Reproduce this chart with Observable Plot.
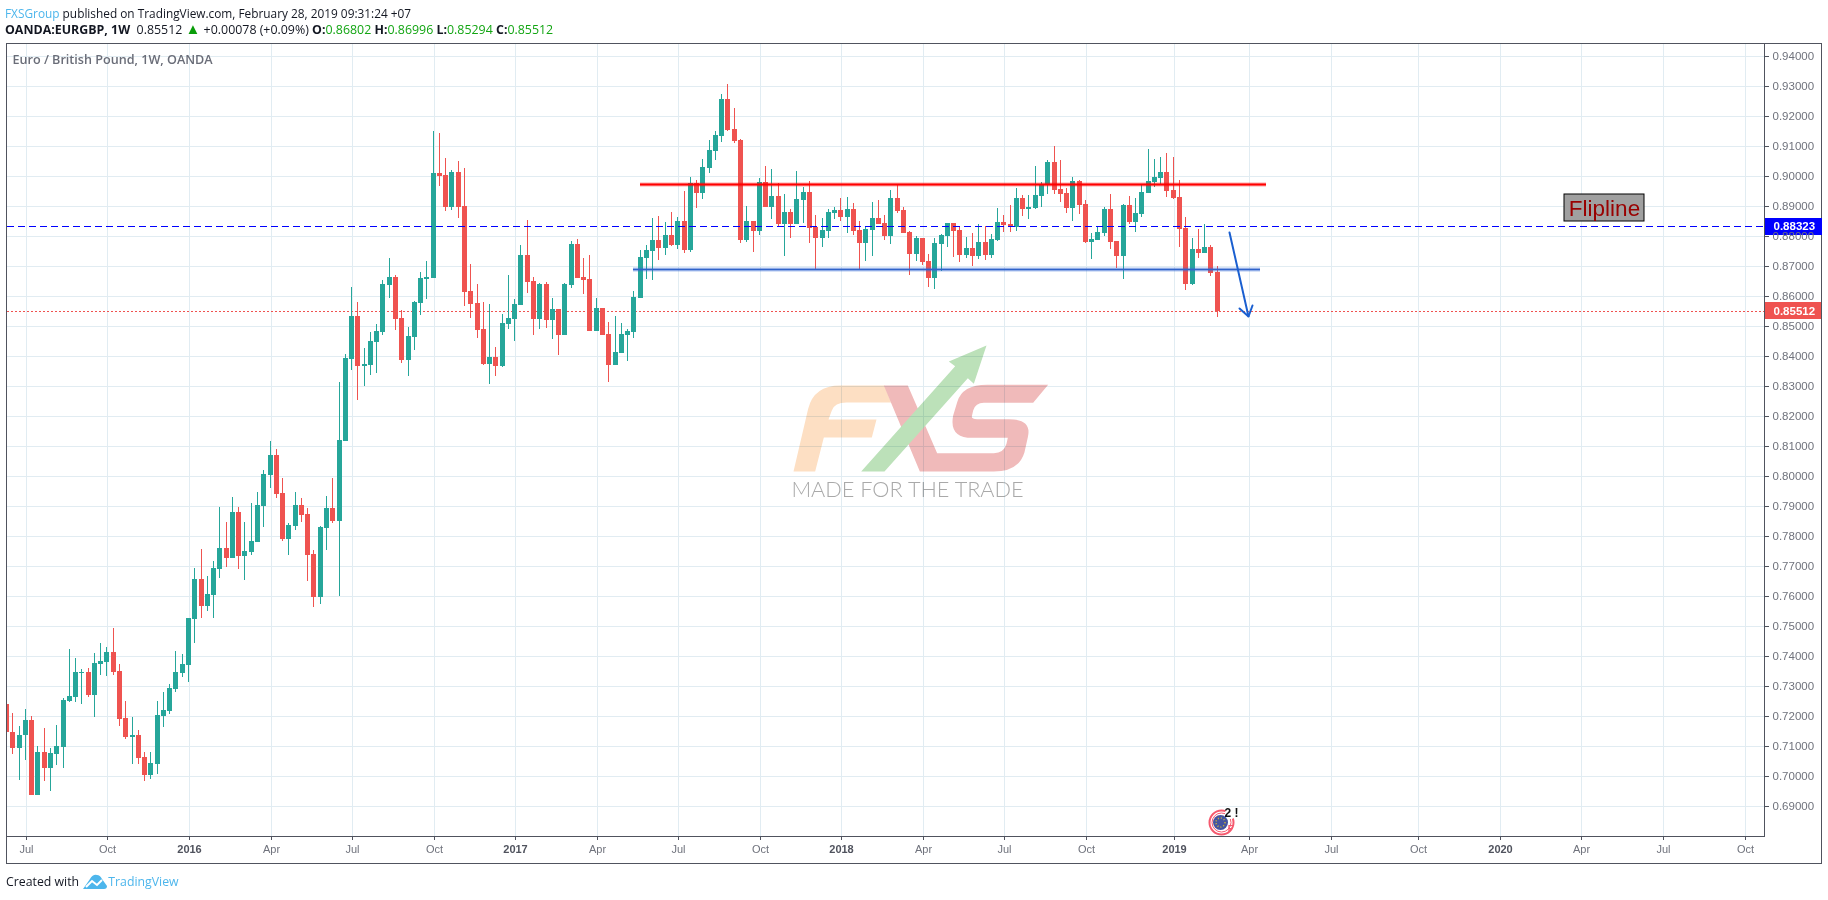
<!DOCTYPE html>
<html>
<head>
<meta charset="utf-8">
<script src="https://cdn.jsdelivr.net/npm/d3@7"></script>
<script src="https://cdn.jsdelivr.net/npm/@observablehq/plot@0.6"></script>
<style>
html,body{margin:0;padding:0;background:#fff;}
body{width:1828px;height:900px;position:relative;overflow:hidden;font-family:"Open Sans",sans-serif;}
.hd{position:absolute;left:5px;white-space:nowrap;color:#131722;font-size:12.4px;line-height:16px;}
.bl{color:#4db6ec}.g{color:#12a512}b{font-weight:700}
.tri{font-size:15px;line-height:0;color:#0a9d0a}
#chart{position:absolute;left:6px;top:43px;border:1px solid #50535e;width:1814px;height:819px;}
#chart svg{display:block}
#foot{position:absolute;left:6px;top:873px;font-size:12.3px;line-height:18px;color:#131722;white-space:nowrap;}
#foot svg{vertical-align:-3px;margin:0 1px 0 1px}
</style>
</head>
<body>
<div class="hd" style="top:5px;font-size:11.85px"><span class="bl">FXSGroup</span> published on TradingView.com, February 28, 2019 09:31:24 +07</div>
<div class="hd" style="top:22px"><b>OANDA:EURGBP, 1W</b> &nbsp;0.85512 <span class="tri">▲</span> +0.00078 (+0.09%) <b>O:</b><span class="g">0.86802</span> <b>H:</b><span class="g">0.86996</span> <b>L:</b><span class="g">0.85294</span> <b>C:</b><span class="g">0.85512</span></div>
<div id="chart"></div>
<div id="foot">Created with <svg width="24" height="15" viewBox="0 0 24 15"><path d="M0 15 L7 5 Q10 0 14 1 Q17 1 19 5 L24 12 Q24 15 21 15 Z" fill="#4db6ec"/><path d="M3 13 L9 7 L14 11 L19 6" fill="none" stroke="#fff" stroke-width="2"/></svg><span class="bl">TradingView</span></div>
<script>
const opens = [
.7241,.71477,.70921,.71355,.71877,.69377,.7081,.70277,.70744,.70977,
.7251,.72644,.7344,.73477,.7271,.73744,.7381,.74144,.7351,.71944,
.7131,.71377,.70644,.70044,.7041,.7201,.72177,.7291,.73444,.7371,
.75244,.76577,.75677,.76044,.7691,.7761,.77277,.7881,.77344,.77477,
.7781,.7901,.80044,.8071,.79444,.7791,.78344,.79044,.78744,.7741,
.75977,.78277,.78944,.7851,.81176,.8391,.85343,.83676,.8371,.84476,
.8481,.86376,.86643,.85276,.83876,.84643,.85776,.86576,.8661,.9011,
.90043,.88976,.90143,.8901,.86176,.85776,.8491,.83743,.83976,.83676,
.85076,.85243,.8571,.87376,.8651,.85243,.8641,.8521,.85576,.8471,
.86376,.87743,.86643,.86576,.84843,.8561,.84743,.8371,.8411,.8471,
.8481,.85943,.87276,.8751,.87876,.8761,.88043,.8771,.8851,.87543,
.89776,.89443,.90276,.90843,.91343,.92576,.91576,.9121,.87876,.8851,
.88176,.8981,.88976,.89343,.8841,.8881,.8841,.8921,.89476,.8831,
.87943,.88176,.88776,.88876,.88643,.8891,.8821,.87776,.8821,.8861,
.88443,.8801,.89276,.88876,.88143,.8741,.87943,.87176,.8661,.87743,
.8801,.88443,.8821,.87376,.8761,.87343,.8781,.87376,.87876,.88477,
.8841,.8831,.89277,.8891,.88944,.89344,.8971,.90477,.89577,.89444,
.88944,.89844,.89077,.8781,.87877,.8811,.8891,.87844,.87344,.89044,
.88477,.88744,.89444,.8981,.89944,.90144,.89544,.8931,.88277,.8641,
.87577,.87444,.87644,.86802];
const highs = [
.7241,.7211,.71677,.72244,.7201,.7101,.7161,.70944,.7171,.7261,
.74244,.73944,.73577,.7361,.7411,.74444,.7431,.74944,.73744,.7251,
.71977,.71544,.7081,.7081,.7251,.7281,.73077,.74177,.74077,.75277,
.76944,.77577,.76677,.77177,.78977,.78477,.7931,.78977,.78477,.7911,
.79477,.8021,.81177,.8091,.79944,.78444,.79477,.79277,.78944,.77544,
.78344,.79344,.79944,.83143,.84076,.8631,.8581,.84276,.8481,.85076,
.86543,.87276,.8671,.85543,.84976,.85843,.8681,.87176,.9151,.91443,
.9061,.9021,.9051,.90276,.87076,.8641,.8581,.85743,.8431,.8541,
.8671,.8591,.8771,.88543,.86643,.86443,.86476,.85943,.85576,.86443,
.87843,.8791,.87276,.87376,.85943,.8561,.85143,.85343,.8511,.8491,
.86176,.87543,.8771,.8861,.88676,.88476,.8881,.88643,.8951,.89976,
.89876,.90576,.9121,.9151,.92743,.93076,.92276,.91243,.8901,.8851,
.89943,.90343,.90243,.89776,.8941,.8891,.90176,.89643,.89843,.8871,
.8861,.8891,.88976,.89276,.8931,.8911,.8851,.88343,.89143,.8921,
.8871,.89543,.8971,.88976,.88176,.8801,.87943,.8741,.87943,.88076,
.88443,.88443,.8831,.87976,.8811,.8841,.88343,.88076,.88943,.8871,
.89044,.8961,.89377,.89377,.90344,.8981,.90544,.9101,.90544,.8961,
.89977,.89877,.8921,.8811,.8831,.88977,.8941,.87844,.89077,.89344,
.89277,.8971,.9091,.90577,.90644,.90777,.90644,.89877,.88644,.87944,
.88244,.8841,.8771,.86996];
const lows = [
.71455,.70744,.69877,.70544,.69377,.69377,.69844,.6951,.70377,.70277,
.72477,.72477,.7241,.72644,.71977,.73377,.73344,.73377,.71677,.71244,
.7041,.7041,.69844,.6991,.70077,.71644,.72077,.7281,.7331,.73144,
.74444,.75277,.7551,.75277,.7661,.76977,.77277,.7691,.76544,.77377,
.7781,.7831,.7961,.79277,.77844,.77377,.7821,.78477,.7651,.75644,
.75744,.77544,.78444,.7601,.81176,.83543,.82543,.8301,.83376,.83443,
.8471,.85943,.84876,.83776,.83343,.8421,.85376,.8591,.8661,.89676,
.88843,.88876,.8861,.85676,.85276,.8461,.8371,.83076,.83343,.83643,
.8491,.8451,.8571,.8611,.8471,.8491,.84943,.84576,.84043,.8471,
.86276,.8661,.86076,.84843,.84843,.8471,.83143,.8371,.8411,.83843,
.8461,.85943,.86576,.86543,.8721,.87376,.87676,.87576,.87443,.87476,
.88943,.89243,.9011,.90543,.91143,.9151,.9111,.87776,.8781,.87476,
.88043,.88976,.88576,.8831,.87343,.87943,.8841,.88443,.87776,.8691,
.87643,.87943,.88576,.8851,.8811,.88043,.8691,.87176,.87343,.8841,
.87876,.87743,.88776,.8811,.8671,.87176,.87043,.8631,.86243,.86843,
.87643,.8731,.87143,.87276,.8701,.87243,.8721,.87276,.87843,.88144,
.88144,.88177,.88677,.88577,.8891,.88977,.8941,.8941,.89144,.88777,
.8851,.88744,.87777,.87244,.87877,.8801,.87577,.86944,.86577,.8841,
.88144,.88644,.89444,.89644,.8971,.8931,.89244,.87644,.8621,.86377,
.87277,.87444,.86677,.85294];
const closes = [
.71455,.70921,.71377,.71877,.69377,.7081,.70277,.70777,.7101,.72544,
.72677,.73477,.73477,.7271,.73777,.73844,.74144,.73477,.7191,.7131,
.71377,.7061,.70044,.70444,.72044,.7221,.72944,.73477,.73744,.75277,
.76577,.75677,.76077,.76944,.7761,.77277,.7881,.77344,.7751,.77844,
.79044,.80077,.8071,.7941,.7791,.78377,.79044,.7871,.77377,.75977,
.7831,.78944,.7851,.8121,.83943,.85343,.83676,.83743,.8451,.84843,
.8641,.86643,.85243,.83876,.84676,.8581,.8661,.86643,.9011,.9001,
.88976,.90143,.88976,.86143,.85743,.84876,.83743,.83976,.83676,.8511,
.85276,.85743,.87376,.86476,.85243,.8641,.8521,.85576,.8471,.8641,
.87743,.8661,.86543,.84843,.8561,.8471,.8371,.84143,.84743,.84843,
.85976,.8731,.87543,.87876,.8761,.88043,.8771,.8851,.87543,.89776,
.89443,.9031,.90876,.91376,.92576,.91543,.91176,.87876,.8851,.88176,
.8981,.88976,.89343,.8841,.8881,.8841,.89243,.89476,.88276,.87943,
.8821,.8881,.88876,.88643,.8891,.88176,.87776,.88243,.8861,.8841,
.8801,.89276,.88843,.8811,.8741,.87943,.87143,.8661,.87776,.88043,
.88443,.88176,.87376,.8761,.87343,.8781,.87376,.8791,.88476,.88377,
.8831,.89277,.8891,.88977,.89377,.8971,.90477,.89544,.8941,.88944,
.89844,.89044,.8781,.8791,.88144,.8891,.8781,.87344,.89044,.88477,
.88777,.89477,.89844,.89977,.90144,.8951,.89277,.88244,.8641,.87577,
.87444,.87644,.86777,.85512];

const firstWeek = "2015-06-15";
const monthTicks = ["2015-07-06","2015-10-05","2016-04-04","2016-07-04","2016-10-03","2017-04-03","2017-07-03","2017-10-02","2018-04-02","2018-07-02","2018-10-01","2019-04-01","2019-07-01","2019-10-07","2020-04-06","2020-07-06","2020-10-05"];
const yearTicks = ["2016-01-04","2017-01-02","2018-01-01","2019-01-07","2020-01-06"];
const priceTicks = d3.range(69, 95).map(v => v / 100);

const supportPrice = 0.86899, supportDates = ["2017-05-13", "2019-04-13"];
const resistancePrice = 0.89732, resistanceDates = ["2017-05-21", "2019-04-20"];
const flipPrice = 0.88323, lastPrice = 0.85512;
const arrowDates = ["2019-03-10", "2019-03-31"], arrowPrices = [0.8812, 0.8532];
const arrowHeadDates = ["2019-03-21", "2019-03-31", "2019-04-04"], arrowHeadPrices = [0.85587, 0.8532, 0.857];
const eventDate = "2019-03-01", eventPrice = 0.68453;

const up = "#26a69a", down = "#ef5350", gridColor = "#e1ecf2";
const axisLine = "#50535e", labelGrey = "#6f727c";

const dates = s => new Date(s + "T00:00Z");
const start = dates(firstWeek);
const bars = opens.map((o, i) => ({
  date: d3.utcMonday.offset(start, i), open: o, high: highs[i], low: lows[i], close: closes[i],
  top: Math.max(o, closes[i]), bottom: Math.min(o, closes[i]),
  color: closes[i] >= o ? up : down
}));

const logo = `<svg xmlns="http://www.w3.org/2000/svg" width="960" height="540" viewBox="0 0 960 540">
<path fill="#fddfc3" d="M99 423 L143 235 Q160 165 240 165 H372 L392 216 H258 Q222 216 214 240 L204 267 H348 L334 321 H190 L164 423 Z"/>
<path fill="#f0baba" d="M370 165 H442 L530 368 H700 Q730 368 738 340 L742 322 H635 Q565 322 578 255 L590 215 Q605 163 680 163 H863 L818 217 H670 Q645 217 638 240 L634 258 Q633 266 650 266 H745 Q815 266 802 320 L792 365 Q775 423 700 423 H478 Z"/>
<path fill="#bce1b9" d="M302 423 L584 107 L565 93 L678 45 L640 160 L622 143 L372 423 Z"/>
</svg>`;
const logoSrc = "data:image/svg+xml;utf8," + encodeURIComponent(logo);
const eventMark = {x: () => dates(eventDate), y: () => eventPrice};

const chart = Plot.plot({
  width: 1814, height: 819,
  marginLeft: 0, marginRight: 57, marginTop: 0, marginBottom: 27,
  style: {fontFamily: '"Liberation Sans", Arial, sans-serif', fontSize: "11px", background: "#fff", overflow: "visible"},
  x: {type: "utc", domain: [new Date("2015-06-14T21:36Z"), new Date("2020-10-26T17:00Z")], range: [0, 1757], round: true, axis: null},
  y: {domain: [0.68, 0.944], range: [792, 0], round: true, axis: null},
  color: {type: "identity"},
  marks: [
    Plot.gridX(monthTicks.concat(yearTicks).map(dates), {stroke: gridColor, strokeOpacity: 1}),
    Plot.gridY(priceTicks, {stroke: gridColor, strokeOpacity: 1}),
    Plot.image([{d: new Date("2018-03-30T00:00Z"), p: 0.81883}], {x: "d", y: "p", src: () => logoSrc, width: 320, height: 180, mixBlendMode: "multiply"}),
    Plot.text(["MADE FOR THE TRADE"], {x: () => new Date("2018-03-15T00:00Z"), y: () => 0.7955, fontFamily: "Lato", fontWeight: 300, fontSize: 21.7, fill: "#a9a9a9", mixBlendMode: "multiply"}),
    Plot.ruleY([lastPrice], {stroke: down, strokeDasharray: "2 2", strokeWidth: 1}),
    Plot.ruleX(bars, {x: "date", y1: "low", y2: "high", stroke: "color", strokeWidth: 1, dx: -1, clip: true}),
    Plot.ruleX(bars, {x: "date", y1: "bottom", y2: "top", stroke: "color", strokeWidth: 5, dx: -1, clip: true}),
    Plot.ruleY([flipPrice], {stroke: "#0000ff", strokeWidth: 1, strokeDasharray: "7 4"}),
    Plot.ruleY([resistancePrice], {x1: () => dates(resistanceDates[0]), x2: () => dates(resistanceDates[1]), stroke: "#ff0000", strokeWidth: 4, strokeOpacity: 0.35}),
    Plot.ruleY([resistancePrice], {x1: () => dates(resistanceDates[0]), x2: () => dates(resistanceDates[1]), stroke: "#ff0000", strokeWidth: 2}),
    Plot.ruleY([supportPrice], {x1: () => dates(supportDates[0]), x2: () => dates(supportDates[1]), stroke: "#3a6fd8", strokeWidth: 4, strokeOpacity: 0.4}),
    Plot.ruleY([supportPrice], {x1: () => dates(supportDates[0]), x2: () => dates(supportDates[1]), stroke: "#2f62c9", strokeWidth: 1.5}),
    Plot.line(arrowDates.map((d, i) => ({d: dates(d), p: arrowPrices[i]})), {x: "d", y: "p", stroke: "#1a5fd0", strokeWidth: 2}),
    Plot.line(arrowHeadDates.map((d, i) => ({d: dates(d), p: arrowHeadPrices[i]})), {x: "d", y: "p", stroke: "#1a5fd0", strokeWidth: 2, strokeLinejoin: "miter"}),
    Plot.rect([{}], {x1: () => new Date("2020-03-18T00:00Z"), x2: () => new Date("2020-06-15T00:00Z"), y1: () => 0.88487, y2: () => 0.894, fill: "#a0a0a0", stroke: "#000", strokeWidth: 1}),
    Plot.text(["Flipline"], {x: () => new Date("2020-05-01T00:00Z"), y: () => 0.8895, fontSize: 22.5, fill: "#990000", fontFamily: '"Liberation Sans"'}),
    Plot.text(["Euro / British Pound, 1W, OANDA"], {frameAnchor: "top-left", dx: 5, dy: 11, fontFamily: '"Open Sans"', fontSize: 12.6, fontWeight: 600, fill: "#6a6d78"}),
    Plot.dot([{}], {...eventMark, r: 12, stroke: "#f5596e", strokeWidth: 2, fill: "#fff"}),
    Plot.dot([{}], {...eventMark, r: 9.5, stroke: "#f5596e", strokeWidth: 1, fill: "#fff"}),
    Plot.dot([{}], {...eventMark, r: 7.5, dx: -1, fill: "#44549f"}),
    Plot.dot([{}], {...eventMark, r: 4.5, dx: -1, fill: "none", stroke: "#c9b23b", strokeDasharray: "1 2"}),
    Plot.dot([{}], {...eventMark, r: 5.5, dx: 9, dy: -9, fill: "#fff"}),
    Plot.text(["2 !"], {...eventMark, dx: 10, dy: -9, fontSize: 12, fontWeight: 700, fill: "#111"}),
    Plot.text(["F"], {...eventMark, dx: 9, dy: 6, fontSize: 9, fontWeight: 700, fill: "#f5596e"}),
    Plot.rect([{}], {x1: () => new Date("2020-10-26T17:00Z"), x2: () => new Date("2020-12-30T12:00Z"), y1: () => flipPrice - 0.00283, y2: () => flipPrice + 0.00283, fill: "#0000ff"}),
    Plot.rect([{}], {x1: () => new Date("2020-10-26T17:00Z"), x2: () => new Date("2020-12-29T12:00Z"), y1: () => lastPrice - 0.00283, y2: () => lastPrice + 0.00283, fill: down}),
    Plot.frame({anchor: "right", stroke: axisLine}),
    Plot.frame({anchor: "bottom", stroke: axisLine}),
    Plot.axisY(priceTicks, {anchor: "right", tickSize: 4, tickPadding: 4, tickFormat: d3.format(".5f"), stroke: axisLine, fill: labelGrey, label: null, fontSize: 11.5}),
    Plot.axisX(monthTicks.map(dates), {tickSize: 4, tickPadding: 5, tickFormat: d3.utcFormat("%b"), stroke: axisLine, fill: labelGrey, label: null, fontSize: 11}),
    Plot.axisX(yearTicks.map(dates), {tickSize: 4, tickPadding: 5, tickFormat: d3.utcFormat("%Y"), stroke: axisLine, fill: "#50535e", fontWeight: 700, label: null, fontSize: 11}),
    Plot.text([flipPrice, lastPrice], {x: () => new Date("2020-10-26T17:00Z"), y: d => d, text: d3.format(".5f"), dx: 9, textAnchor: "start", fill: "#fff", fontWeight: 700, fontSize: 11.5})
  ]
});
document.getElementById("chart").append(chart);
</script>
</body>
</html>
